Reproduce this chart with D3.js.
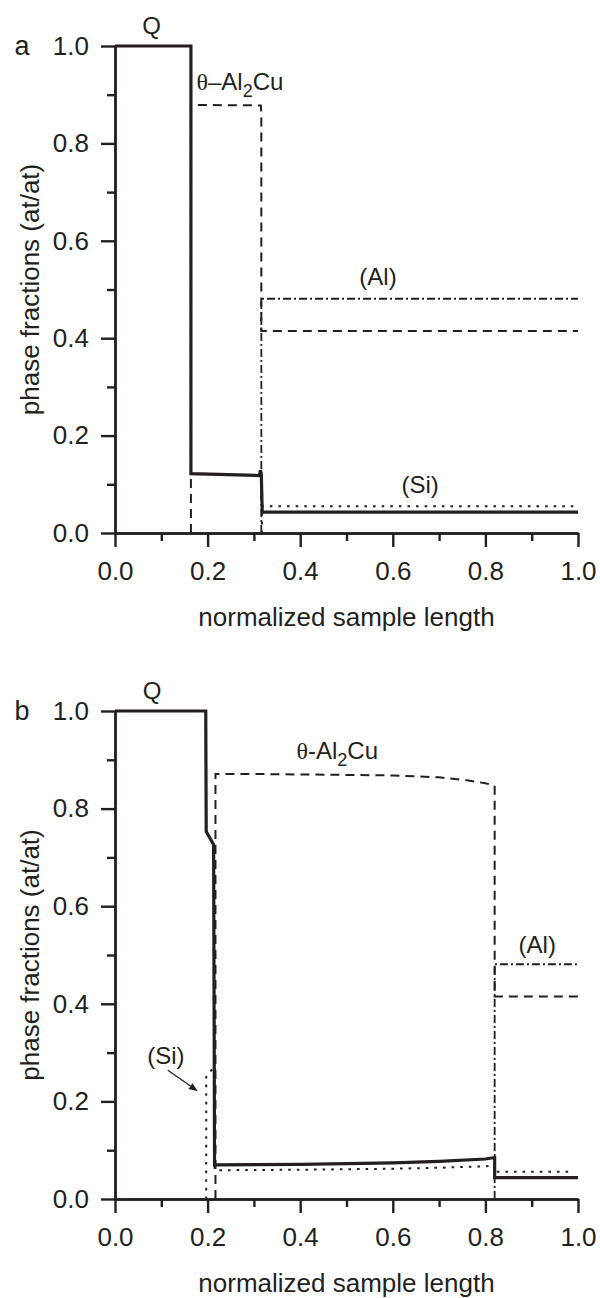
<!DOCTYPE html>
<html>
<head>
<meta charset="utf-8">
<script src="https://cdn.jsdelivr.net/npm/d3@7"></script>
<style>
  html, body { margin: 0; padding: 0; background: #fff; }
  svg { display: block; }
  text { font-family: "Liberation Sans", Arial, sans-serif; fill: #231f20; }
</style>
</head>
<body>
<svg id="chart" width="600" height="1298"></svg>
<script>
// ---------- DATA ----------
const xTicks = [0.0, 0.2, 0.4, 0.6, 0.8, 1.0];
const yTicks = [0.0, 0.2, 0.4, 0.6, 0.8, 1.0];
const xMinorTicks = [0.1, 0.3, 0.5, 0.7, 0.9];
const yMinorTicks = [0.1, 0.3, 0.5, 0.7, 0.9];
const xTitle = "normalized sample length";
const yTitle = "phase fractions (at/at)";

// panel a
const aQ_x     = [0, 0.164, 0.164, 0.312, 0.314, 0.316, 0.318, 1.0];
const aQ_y     = [1.0, 1.0, 0.122, 0.118, 0.129, 0.12, 0.043, 0.043];
const aTheta_x = [0.164, 0.164, 0.315, 0.316, 0.316, 1.0];
const aTheta_y = [0, 0.879, 0.878, 0.86, 0.415, 0.415];
const aAl_x    = [0.316, 0.316, 1.0];
const aAl_y    = [0, 0.481, 0.481];
const aSi_x    = [0.317, 0.318, 0.99];
const aSi_y    = [0, 0.055, 0.055];

// panel b
const bQ_x     = [0, 0.196, 0.197, 0.213, 0.215, 0.22, 0.4, 0.6, 0.7, 0.8, 0.82, 0.82, 1.0];
const bQ_y     = [1.0, 1.0, 0.753, 0.726, 0.07, 0.07, 0.071, 0.074, 0.077, 0.082, 0.085, 0.044, 0.044];
const bTheta_x = [0.217, 0.217, 0.3, 0.4, 0.5, 0.6, 0.7, 0.76, 0.8, 0.82, 0.82, 1.0];
const bTheta_y = [0, 0.871, 0.871, 0.870, 0.869, 0.868, 0.864, 0.858, 0.852, 0.847, 0.415, 0.415];
const bAl_x    = [0.82, 0.82, 1.0];
const bAl_y    = [0, 0.481, 0.481];
const bSi_x    = [0.197, 0.197, 0.21, 0.215, 0.215, 0.22, 0.4, 0.6, 0.7, 0.8, 0.818, 0.82, 0.82, 0.99];
const bSi_y    = [0, 0.25, 0.266, 0.268, 0.06, 0.059, 0.06, 0.062, 0.064, 0.067, 0.069, 0.069, 0.056, 0.056];

// ---------- DRAW ----------
const svg = d3.select("#chart");
const INK = "#231f20";
const FS = 26;   // tick labels and axis titles
const LS = 24;   // in-plot labels

const styles = {
  Q:     { w: 3.2, dash: null },
  theta: { w: 2.0, dash: "9,6" },
  Al:    { w: 1.8, dash: "8,3,2,3" },
  Si:    { w: 2.0, dash: "2.6,6" }
};

function drawPanel(p) {
  const x = d3.scaleLinear().domain([0, 1]).range([115, 578]);
  const y = d3.scaleLinear().domain([0, 1]).range([p.bottom, p.top]);
  const g = svg.append("g");

  const line = d3.line().x(d => x(d[0])).y(d => y(d[1]));
  const series = [
    ["theta", p.theta_x, p.theta_y],
    ["Al", p.al_x, p.al_y],
    ["Si", p.si_x, p.si_y],
    ["Q", p.q_x, p.q_y]
  ];
  series.forEach(([k, xs, ys]) => {
    const pts = xs.map((v, i) => [v, ys[i]]);
    g.append("path").attr("d", line(pts))
      .attr("fill", "none").attr("stroke", INK)
      .attr("stroke-width", styles[k].w)
      .attr("stroke-dasharray", styles[k].dash)
      .attr("stroke-linejoin", "miter");
  });

  // axes
  const xAxis = d3.axisBottom(x).tickValues(xTicks).tickSize(14).tickPadding(15)
    .tickSizeOuter(0).tickFormat(d3.format(".1f"));
  const xMinor = d3.axisBottom(x).tickValues(xMinorTicks).tickSize(8).tickSizeOuter(0).tickFormat("");
  const yAxis = d3.axisLeft(y).tickValues(yTicks).tickSize(14).tickPadding(12)
    .tickSizeOuter(0).tickFormat(d3.format(".1f"));
  const yMinor = d3.axisLeft(y).tickValues(yMinorTicks).tickSize(8).tickSizeOuter(0).tickFormat("");

  [[xAxis, "translate(0," + p.bottom + ")"], [xMinor, "translate(0," + p.bottom + ")"],
   [yAxis, "translate(115,0)"], [yMinor, "translate(115,0)"]].forEach(([ax, tr]) => {
    const a = g.append("g").attr("transform", tr).call(ax);
    a.selectAll("path.domain").attr("stroke", INK).attr("stroke-width", 2.4);
    a.selectAll(".tick line").attr("stroke", INK).attr("stroke-width", 2.4);
    a.selectAll(".tick text").attr("font-size", FS).attr("font-family", "Liberation Sans, Arial, sans-serif").attr("fill", INK);
  });

  // titles
  g.append("text").attr("x", (x(0) + x(1)) / 2).attr("y", p.bottom + 93)
    .attr("text-anchor", "middle").attr("font-size", FS).text(xTitle);
  g.append("text").attr("transform", "translate(39," + (y(0) + y(1)) / 2 + ") rotate(-90)")
    .attr("text-anchor", "middle").attr("font-size", FS).text(yTitle);

  // panel letter
  g.append("text").attr("x", 22).attr("y", y(1) + 9).attr("text-anchor", "middle")
    .attr("font-size", FS + 1).text(p.letter);

  // labels
  g.append("text").attr("x", x(p.qLabelX)).attr("y", y(1) - 12)
    .attr("text-anchor", "middle").attr("font-size", LS).text("Q");

  const th = g.append("text").attr("x", x(p.thLabelX)).attr("y", p.thLabelY).attr("font-size", LS);
  th.append("tspan").attr("font-family", "Liberation Serif, serif").text("θ");
  th.append("tspan").text(p.thDash + "Al");
  th.append("tspan").attr("font-size", LS - 6).attr("dy", 7).text("2");
  th.append("tspan").attr("dy", -7).text("Cu");

  g.append("text").attr("x", x(p.alLabelX)).attr("y", y(0.481) - p.alOff)
    .attr("text-anchor", "middle").attr("font-size", LS).text("(Al)");
  g.append("text").attr("x", x(p.siLabelX)).attr("y", p.siLabelY)
    .attr("text-anchor", "middle").attr("font-size", LS).text("(Si)");

  if (p.arrow) {
    const [x1, y1, x2, y2] = [x(p.arrow[0]), y(p.arrow[1]), x(p.arrow[2]), y(p.arrow[3])];
    const ang = Math.atan2(y2 - y1, x2 - x1);
    const L = 9, W = 3.5;
    const bx = x2 - L * Math.cos(ang), by = y2 - L * Math.sin(ang);
    g.append("line").attr("x1", x1).attr("y1", y1).attr("x2", bx).attr("y2", by)
      .attr("stroke", INK).attr("stroke-width", 1.3);
    g.append("path").attr("d",
      "M" + x2 + "," + y2 +
      "L" + (bx + W * Math.sin(ang)) + "," + (by - W * Math.cos(ang)) +
      "L" + (bx - W * Math.sin(ang)) + "," + (by + W * Math.cos(ang)) + "Z")
      .attr("fill", INK);
  }
}

drawPanel({
  letter: "a", top: 46, bottom: 533,
  q_x: aQ_x, q_y: aQ_y, theta_x: aTheta_x, theta_y: aTheta_y,
  al_x: aAl_x, al_y: aAl_y, si_x: aSi_x, si_y: aSi_y,
  qLabelX: 0.079, thLabelX: 0.176, thLabelY: 90, thDash: "\u2013",
  alLabelX: 0.568, alOff: 14, siLabelX: 0.659, siLabelY: 493, arrow: null
});

drawPanel({
  letter: "b", top: 711, bottom: 1199,
  q_x: bQ_x, q_y: bQ_y, theta_x: bTheta_x, theta_y: bTheta_y,
  al_x: bAl_x, al_y: bAl_y, si_x: bSi_x, si_y: bSi_y,
  qLabelX: 0.08, thLabelX: 0.392, thLabelY: 759, thDash: "-",
  alLabelX: 0.912, alOff: 11, siLabelX: 0.11, siLabelY: 1064,
  arrow: [0.114, 0.264, 0.179, 0.221]
});
</script>
</body>
</html>
